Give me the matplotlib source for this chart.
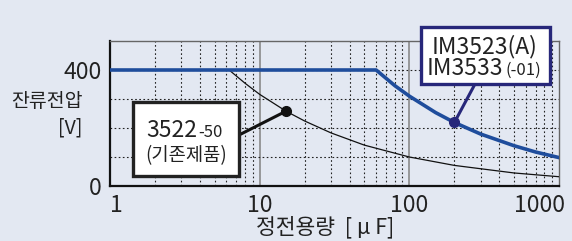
import matplotlib
matplotlib.use("Agg")
import matplotlib.pyplot as plt
from matplotlib.patches import Rectangle
from matplotlib.ticker import LogLocator, NullFormatter

plt.rcParams["font.family"] = ["Noto Sans CJK KR", "DejaVu Sans"]

# capacitance [uF] vs residual voltage [V]
cap_new = [1, 60, 80, 100, 150, 200, 300, 500, 700, 1000]
volt_new = [400, 400, 346, 310, 253, 219, 179, 139, 117, 98]

cap_old = [1, 6.25, 8, 10, 15, 20, 30, 50, 100, 200, 500, 1000]
volt_old = [400, 400, 354, 316, 258, 224, 183, 141, 100, 71, 45, 32]

label_new_idx = 5   # point marked on the IM3523 curve (200 uF)
label_old_idx = 4   # point marked on the 3522-50 curve (15 uF)

x_ticks = [1, 10, 100, 1000]
x_labels = ["1", "10", "100", "1000"]
y_ticks = [0, 400]

bg = "#e3e8f2"
blue = "#1f4d9c"
navy = "#27277a"
ink = "#222222"

W, H = 572, 241
fig = plt.figure(figsize=(W / 100, H / 100), dpi=100, facecolor=bg)


def fx(px):
    return px / W


def fy(py):
    return 1 - py / H


ax = fig.add_axes([fx(110), fy(186), fx(559) - fx(110), fy(41) - fy(186)])
ax.set_facecolor(bg)
ax.set_xscale("log")
ax.set_xlim(1, 1000)
ax.set_ylim(0, 500)

# grid
for c in [2, 3, 4, 5, 6, 7, 8, 9, 20, 30, 40, 50, 60, 70, 80, 90, 200, 300, 400, 500, 600, 700, 800, 900]:
    ax.axvline(c, color=ink, lw=0.8, ls=(0, (1.5, 2.2)), zorder=1)
for c in [10, 100]:
    ax.axvline(c, color="#8a8a8a", lw=1.2, zorder=1)
for v in [100, 200, 300, 400]:
    ax.axhline(v, color=ink, lw=0.8, ls=(0, (1.5, 2.2)), zorder=1)

ax.plot(cap_old, volt_old, color="#111111", lw=0.9, zorder=3)
ax.plot(cap_new, volt_new, color=blue, lw=2.6, zorder=4)

ax.set_xticks(x_ticks)
ax.set_xticklabels(x_labels)
ax.xaxis.set_minor_locator(LogLocator(subs="all"))
ax.xaxis.set_minor_formatter(NullFormatter())
ax.set_yticks(y_ticks)
ax.tick_params(which="both", length=0, labelsize=16.5, colors=ink)
ax.tick_params(axis="x", pad=6)
ax.tick_params(axis="y", pad=6)
last = ax.get_xticklabels()[-1]
last.set_horizontalalignment("right")
last.set_transform(last.get_transform() + matplotlib.transforms.Affine2D().translate(6, 0))
ax.get_xticklabels()[0].set_horizontalalignment("left")

for s in ["left", "bottom"]:
    ax.spines[s].set_color("#111111")
    ax.spines[s].set_linewidth(1.6)
for s in ["top", "right"]:
    ax.spines[s].set_color("#666666")
    ax.spines[s].set_linewidth(1.0)

# axis titles
fig.text(fx(83), fy(101), "잔류전압", ha="right", va="center", fontsize=14, color=ink)
fig.text(fx(82), fy(128), "[V]", ha="right", va="center", fontsize=14, color=ink)
fig.text(fx(325), fy(227), "정전용량  [ μ F]", ha="center", va="center", fontsize=15.5, color=ink)

# label points
p_old = (cap_old[label_old_idx], volt_old[label_old_idx])
p_new = (cap_new[label_new_idx], volt_new[label_new_idx])
ax.plot(*p_old, "o", color="#111111", ms=7, zorder=6)
ax.plot(*p_new, "o", color=navy, ms=7, zorder=6)

ax.annotate("", xy=p_old, xycoords="data", xytext=(fx(239), fy(135)),
            textcoords="figure fraction",
            arrowprops=dict(arrowstyle="-", color="#111111", lw=2.2, shrinkA=0, shrinkB=0),
            zorder=5)
ax.annotate("", xy=p_new, xycoords="data", xytext=(fx(475), fy(84)),
            textcoords="figure fraction",
            arrowprops=dict(arrowstyle="-", color=navy, lw=2.2, shrinkA=0, shrinkB=0),
            zorder=5)

# boxes
fig.patches.append(Rectangle((fx(133), fy(176)), fx(239) - fx(133), fy(102) - fy(176),
                             transform=fig.transFigure, facecolor="white",
                             edgecolor="#222222", lw=2.4, zorder=10))
fig.patches.append(Rectangle((fx(421), fy(84)), fx(550) - fx(421), fy(27) - fy(84),
                             transform=fig.transFigure, facecolor="white",
                             edgecolor=navy, lw=2.4, zorder=10))

fig.text(fx(197), fy(137), "3522", ha="right", va="baseline", fontsize=16.5, color=ink, zorder=11)
fig.text(fx(198), fy(137), "-50", ha="left", va="baseline", fontsize=12, color=ink, zorder=11)
fig.text(fx(186), fy(156), "(기존제품)", ha="center", va="center", fontsize=13.5, color=ink, zorder=11)

fig.text(fx(485), fy(53), "IM3523(A)", ha="center", va="baseline", fontsize=16.5, color=ink, zorder=11)
fig.text(fx(503), fy(75), "IM3533", ha="right", va="baseline", fontsize=16.5, color=ink, zorder=11)
fig.text(fx(505), fy(75), "(-01)", ha="left", va="baseline", fontsize=12, color=ink, zorder=11)

fig.savefig("out.png", dpi=100, facecolor=bg)
